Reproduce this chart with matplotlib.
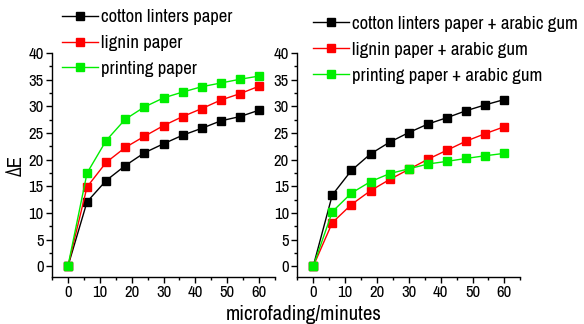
import matplotlib
matplotlib.use("Agg")
import matplotlib.pyplot as plt
from matplotlib.ticker import MultipleLocator

plt.rcParams['font.family'] = ['Liberation Sans Narrow', 'Archivo Narrow', 'PT Sans Narrow',
                               'Roboto Condensed', 'Liberation Sans', 'DejaVu Sans']

minutes = [0, 6, 12, 18, 24, 30, 36, 42, 48, 54, 60]

# plain papers
cotton = [0, 12.1, 16.1, 18.9, 21.3, 23.0, 24.6, 25.9, 27.3, 28.1, 29.3]
lignin = [0, 14.9, 19.5, 22.3, 24.4, 26.4, 28.1, 29.6, 31.2, 32.4, 33.8]
printing = [0, 17.5, 23.6, 27.6, 29.9, 31.6, 32.7, 33.7, 34.4, 35.1, 35.7]

# papers treated with arabic gum
cotton_gum = [0, 13.4, 18.0, 21.1, 23.3, 25.1, 26.7, 27.9, 29.2, 30.3, 31.3]
lignin_gum = [0, 8.2, 11.6, 14.2, 16.3, 18.2, 20.1, 21.8, 23.5, 24.9, 26.2]
printing_gum = [0, 10.25, 13.75, 15.9, 17.4, 18.3, 19.2, 19.7, 20.25, 20.75, 21.2]

labels_left = ['cotton linters paper', 'lignin paper', 'printing paper']
labels_right = [l + ' + arabic gum' for l in labels_left]
colors = ['black', 'red', '#00ee00']

fig = plt.figure(figsize=(5.84, 3.24), dpi=100)
ax1 = fig.add_axes([0.089, 0.145, 0.382, 0.691])
ax2 = fig.add_axes([0.509, 0.145, 0.382, 0.691])


def style_axis(ax):
    ax.set_xlim(-5, 65)
    ax.set_ylim(-2, 40)
    ax.spines['top'].set_visible(False)
    ax.spines['right'].set_visible(False)
    ax.spines['left'].set_bounds(-2, 40)
    ax.xaxis.set_major_locator(MultipleLocator(10))
    ax.xaxis.set_minor_locator(MultipleLocator(5))
    ax.yaxis.set_major_locator(MultipleLocator(5))
    ax.yaxis.set_minor_locator(MultipleLocator(2.5))
    ax.tick_params(which='major', direction='out', length=4, width=1, labelsize=12, pad=2)
    ax.tick_params(which='minor', direction='out', length=2, width=1)
    for s in ax.spines.values():
        s.set_linewidth(1)


for ax, series, labels in [(ax1, [cotton, lignin, printing], labels_left),
                           (ax2, [cotton_gum, lignin_gum, printing_gum], labels_right)]:
    for ys, c, lab in zip(series, colors, labels):
        ax.plot(minutes, ys, color=c, lw=1, marker='s', ms=5.5, mec=c, mfc=c,
                label=lab, clip_on=False)
    style_axis(ax)

leg_opts = dict(frameon=False, fontsize=13.5, handlelength=1.9, handletextpad=0.2,
                labelspacing=0.52, borderaxespad=0, borderpad=0)
ax1.legend(loc='upper left', bbox_to_anchor=(0.106, 0.972),
           bbox_transform=fig.transFigure, **leg_opts)
ax2.legend(loc='upper left', bbox_to_anchor=(0.536, 0.951),
           bbox_transform=fig.transFigure, **leg_opts)

ax1.set_ylabel('ΔE', fontsize=15, labelpad=2)
fig.text(0.52, 0.0, 'microfading/minutes', ha='center', va='bottom', fontsize=15)

fig.savefig('out.png', dpi=100)
